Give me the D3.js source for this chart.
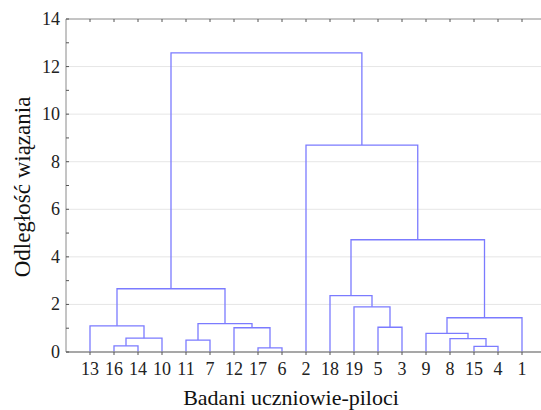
<!DOCTYPE html>
<html>
<head>
<meta charset="utf-8">
<script src="https://cdn.jsdelivr.net/npm/d3@7"></script>
<style>
  body { margin: 0; background: #fff; }
</style>
</head>
<body>
<svg width="541" height="410"></svg>
<script>
// leaf order along the x axis
const leaves = ['13', '16', '14', '10', '11', '7', '12', '17', '6', '2',
    '18', '19', '5', '3', '9', '8', '15', '4', '1']

// merges: [left, right, height] -- left/right are leaf names or 'mN' (index of earlier merge)
const merges = [
    ['16', '14', 0.26],     // m0
    ['m0', '10', 0.58],     // m1
    ['13', 'm1', 1.10],     // m2
    ['11', '7', 0.50],      // m3
    ['17', '6', 0.17],      // m4
    ['12', 'm4', 1.02],     // m5
    ['m3', 'm5', 1.19],     // m6
    ['m2', 'm6', 2.66],     // m7
    ['5', '3', 1.04],       // m8
    ['19', 'm8', 1.90],     // m9
    ['18', 'm9', 2.37],     // m10
    ['15', '4', 0.24],      // m11
    ['8', 'm11', 0.56],     // m12
    ['9', 'm12', 0.78],     // m13
    ['m13', '1', 1.44],     // m14
    ['m10', 'm14', 4.72],   // m15
    ['2', 'm15', 8.70],     // m16
    ['m7', 'm16', 12.58]    // m17
]

const y_ticks = [0, 2, 4, 6, 8, 10, 12, 14],
    y_minor = [1, 3, 5, 7, 9, 11, 13]

const x_title = 'Badani uczniowie-piloci',
    y_title = 'Odległość wiązania'

const line_color = '#7b7bff',
    axes_color = '#8a8a8a',
    grid_color = '#e6e6e6',
    font = '"Liberation Serif", "DejaVu Serif", serif'

const svg = d3.select('svg'),
    plot_l = 66, plot_r = 546, plot_t = 19, plot_b = 352

const x = d3.scalePoint()
    .domain(leaves)
    .range([plot_l, plot_r])
    .padding(1),
    y = d3.scaleLinear()
    .domain([0, 14])
    .range([plot_b, plot_t])

// gridlines
svg.selectAll('line.grid')
    .data(y_ticks.filter((d) => d > 0 && d < 14))
    .enter().append('line')
    .attr('x1', plot_l).attr('x2', plot_r)
    .attr('y1', (d) => y(d)).attr('y2', (d) => y(d))
    .style('stroke', grid_color)
    .style('stroke-width', 1)

// work out node positions
const pos = {}
leaves.forEach((d) => pos[d] = { x: x(d), h: 0 })
merges.forEach(function (m, i) {
    const a = pos[m[0]], b = pos[m[1]]
    pos['m' + i] = { x: (a.x + b.x) / 2, h: m[2], a: a, b: b }
})

const links = merges.map((m, i) => pos['m' + i])

svg.selectAll('path.link')
    .data(links)
    .enter().append('path')
    .attr('d', (d) => 'M' + d.a.x + ',' + y(d.a.h) +
        'V' + y(d.h) + 'H' + d.b.x + 'V' + y(d.b.h))
    .style('fill', 'none')
    .style('stroke', line_color)
    .style('stroke-width', 1.3)

// frame
svg.append('path')
    .attr('d', 'M' + plot_l + ',' + plot_b + 'V' + plot_t + 'H' + plot_r)
    .style('fill', 'none')
    .style('stroke', axes_color)
    .style('stroke-width', 1)
svg.append('line')
    .attr('x1', plot_l).attr('x2', plot_r)
    .attr('y1', plot_b).attr('y2', plot_b)
    .style('stroke', axes_color)
    .style('stroke-width', 1.5)

// y axis ticks and labels
svg.selectAll('line.ytick')
    .data(y_ticks.concat(y_minor))
    .enter().append('line')
    .attr('x1', plot_l).attr('x2', plot_l + 3)
    .attr('y1', (d) => y(d)).attr('y2', (d) => y(d))
    .style('stroke', '#555')

svg.selectAll('text.ylab')
    .data(y_ticks)
    .enter().append('text')
    .attr('x', plot_l - 6)
    .attr('y', (d) => y(d) + 6)
    .attr('text-anchor', 'end')
    .style('font-family', font)
    .style('font-size', '18px')
    .style('fill', '#222')
    .text((d) => d)

// x ticks (top inside, bottom outside) and leaf labels
svg.selectAll('line.xtop')
    .data(leaves)
    .enter().append('line')
    .attr('x1', (d) => x(d)).attr('x2', (d) => x(d))
    .attr('y1', plot_t).attr('y2', plot_t + 3)
    .style('stroke', '#555')
svg.selectAll('line.xbot')
    .data(leaves)
    .enter().append('line')
    .attr('x1', (d) => x(d)).attr('x2', (d) => x(d))
    .attr('y1', plot_b).attr('y2', plot_b + 3)
    .style('stroke', '#555')

svg.selectAll('text.xlab')
    .data(leaves)
    .enter().append('text')
    .attr('x', (d) => x(d))
    .attr('y', 375)
    .attr('text-anchor', 'middle')
    .style('font-family', font)
    .style('font-size', '18px')
    .style('fill', '#222')
    .text((d) => d)

// titles
svg.append('text')
    .attr('x', 291)
    .attr('y', 405)
    .attr('text-anchor', 'middle')
    .style('font-family', font)
    .style('font-size', '22px')
    .style('fill', '#111')
    .text(x_title)

svg.append('text')
    .attr('transform', 'translate(30,187)rotate(-90)')
    .attr('text-anchor', 'middle')
    .style('font-family', font)
    .style('font-size', '23px')
    .style('fill', '#111')
    .text(y_title)
</script>
</body>
</html>
